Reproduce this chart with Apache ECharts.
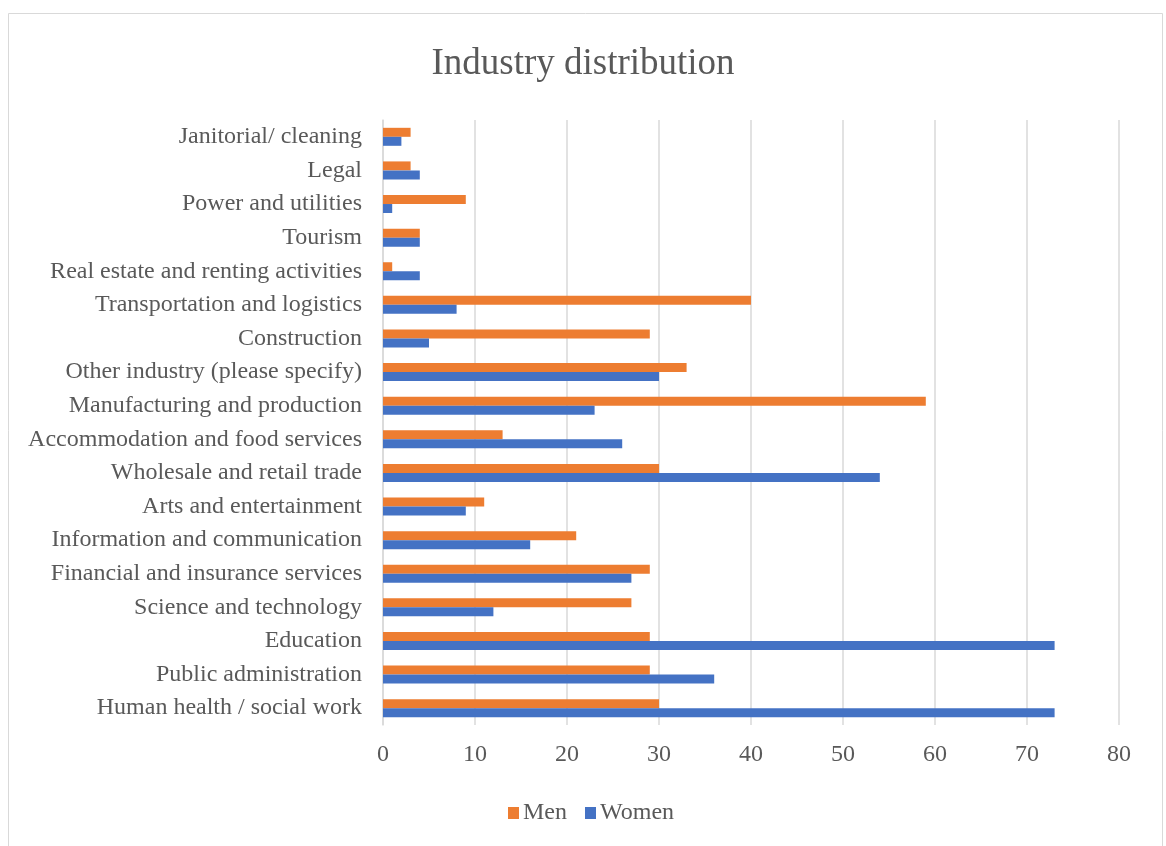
<!DOCTYPE html>
<html>
<head>
<meta charset="utf-8">
<script src="https://cdn.jsdelivr.net/npm/echarts@6/dist/echarts.min.js"></script>
<style>
html,body{margin:0;padding:0;background:#fff;}
#main{width:1166px;height:846px;}
</style>
</head>
<body>
<div id="main"></div>
<script>
// Categories listed top to bottom
const categories = [
  "Janitorial/ cleaning",
  "Legal",
  "Power and utilities",
  "Tourism",
  "Real estate and renting activities",
  "Transportation and logistics",
  "Construction",
  "Other industry (please specify)",
  "Manufacturing and production",
  "Accommodation and food services",
  "Wholesale and retail trade",
  "Arts and entertainment",
  "Information and communication",
  "Financial and insurance services",
  "Science and technology",
  "Education",
  "Public administration",
  "Human health / social work"
];
const menValues   = [3, 3, 9, 4, 1, 40, 29, 33, 59, 13, 30, 11, 21, 29, 27, 29, 29, 30];
const womenValues = [2, 4, 1, 4, 4, 8, 5, 30, 23, 26, 54, 9, 16, 27, 12, 73, 36, 73];
const xTicks = [0, 10, 20, 30, 40, 50, 60, 70, 80];

const FONT = '"Liberation Serif", "DejaVu Serif", serif';
const chart = echarts.init(document.getElementById('main'));
chart.setOption({
  animation: false,
  backgroundColor: '#fff',
  graphic: [{
    type: 'rect',
    shape: { x: 8.5, y: 13.5, width: 1154, height: 850 },
    style: { fill: 'none', stroke: '#d9d9d9', lineWidth: 1 },
    silent: true
  }],
  title: {
    text: 'Industry distribution',
    left: 'center',
    top: 41,
    textStyle: { fontFamily: FONT, fontSize: 37, fontWeight: 'normal', color: '#595959' }
  },
  legend: {
    data: ['Men', 'Women'],
    left: 503,
    top: 796,
    itemWidth: 11,
    itemHeight: 12,
    itemGap: 18,
    icon: 'rect',
    textStyle: { fontFamily: FONT, fontSize: 24, color: '#595959', padding: [0, 0, 0, -1] }
  },
  grid: { left: 383, right: 47, top: 120, bottom: 121, containLabel: false },
  xAxis: {
    type: 'value',
    min: xTicks[0],
    max: xTicks[xTicks.length - 1],
    interval: 10,
    axisLine: { show: false },
    axisTick: { show: false },
    axisLabel: { fontFamily: FONT, fontSize: 24, color: '#595959', margin: 18 },
    splitLine: { show: true, lineStyle: { color: '#d9d9d9', width: 1.5 } }
  },
  yAxis: {
    type: 'category',
    data: categories,
    inverse: true,
    axisLine: { show: true, lineStyle: { color: '#d9d9d9', width: 1.5 } },
    axisTick: { show: false },
    axisLabel: { fontFamily: FONT, fontSize: 24, color: '#595959', margin: 21, padding: [5, 0, 0, 0] }
  },
  series: [
    {
      name: 'Men', type: 'bar', data: menValues,
      barWidth: 9, barGap: '0%',
      itemStyle: { color: '#ED7D31' }
    },
    {
      name: 'Women', type: 'bar', data: womenValues,
      barWidth: 9, barGap: '0%',
      itemStyle: { color: '#4472C4' }
    }
  ]
});
</script>
</body>
</html>
